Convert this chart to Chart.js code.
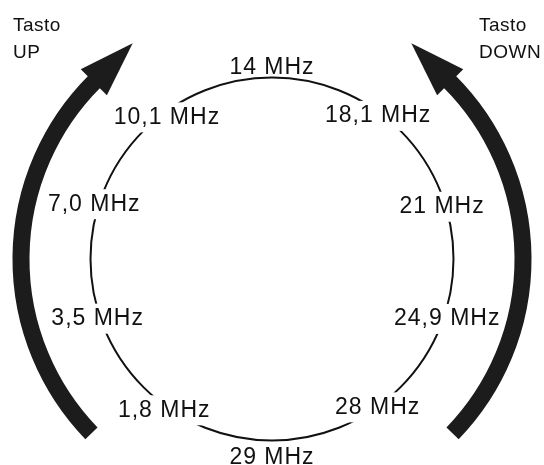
<!DOCTYPE html>
<html>
<head>
<meta charset="utf-8">
<script src="https://cdn.jsdelivr.net/npm/chart.js@4"></script>
<style>
  html, body { margin: 0; padding: 0; background: #fff; }
  #wrap { width: 544px; height: 465px; }
</style>
</head>
<body>
<div id="wrap"><canvas id="bandChart"></canvas></div>
<script>
// bands around the ring, clockwise from the top
const bands = ["14 MHz", "18,1 MHz", "21 MHz", "24,9 MHz", "28 MHz", "29 MHz", "1,8 MHz", "3,5 MHz", "7,0 MHz", "10,1 MHz"];
// how far each label sits from the centre (ring = 1)
const labelRadius = [1.07, 0.995, 0.985, 1.015, 0.99, 1.08, 1.01, 1.01, 1.03, 0.985];
const ringTicks = [0, 1];

// the two keys and their arrows (angles clockwise from the top, degrees)
const keyLines = [["Tasto", "UP"], ["Tasto", "DOWN"]];
const arrowFrom = [226, 134];
const arrowTo = [315, 45];
const arrowRadius = 1.383;

const ink = "#111";

const diagramPlugin = {
  id: "diagram",
  afterDatasetsDraw(chart) {
    const ctx = chart.ctx;
    const scale = chart.scales.r;
    const meta = chart.getDatasetMeta(0);
    ctx.save();

    // band labels, white box cuts the ring behind them
    ctx.font = "23px 'Liberation Sans', Arial, sans-serif";
    ctx.letterSpacing = "1px";
    ctx.textAlign = "center";
    ctx.textBaseline = "middle";
    meta.data.forEach((pt, i) => {
      const w = ctx.measureText(bands[i]).width;
      const y = pt.y + 3;
      if (labelRadius[i] < 1.05) {
        ctx.fillStyle = "#fff";
        ctx.fillRect(pt.x - w / 2 - 4, y - 15, w + 8, 30);
      }
      ctx.fillStyle = ink;
      ctx.fillText(bands[i], pt.x, y);
    });

    // curved arrows
    const cx = scale.xCenter;
    const cy = scale.yCenter;
    const r = scale.getDistanceFromCenterForValue(arrowRadius);
    ctx.fillStyle = "#1c1c1c";
    ctx.strokeStyle = "#1c1c1c";
    ctx.lineWidth = 17;
    ctx.lineCap = "butt";
    arrowFrom.forEach((a0, i) => {
      const p0 = (a0 - 90) * Math.PI / 180;
      const p1 = (arrowTo[i] - 90) * Math.PI / 180;
      const ccw = arrowTo[i] < a0;
      ctx.beginPath();
      ctx.arc(cx, cy, r, p0, p1, ccw);
      ctx.stroke();

      const bx = cx + r * Math.cos(p1);
      const by = cy + r * Math.sin(p1);
      const tx = ccw ? Math.sin(p1) : -Math.sin(p1);
      const ty = ccw ? -Math.cos(p1) : Math.cos(p1);
      const nx = Math.cos(p1);
      const ny = Math.sin(p1);
      ctx.beginPath();
      ctx.moveTo(bx + tx * 54, by + ty * 54);
      ctx.lineTo(bx + nx * 18.5 - tx * 1, by + ny * 18.5 - ty * 1);
      ctx.lineTo(bx - nx * 18.5 - tx * 1, by - ny * 18.5 - ty * 1);
      ctx.closePath();
      ctx.fill();
    });

    // key names in the top corners
    ctx.font = "19px 'Liberation Sans', Arial, sans-serif";
    ctx.letterSpacing = "0.5px";
    ctx.textAlign = "left";
    ctx.textBaseline = "alphabetic";
    ctx.fillStyle = ink;
    const keyX = [13, 479];
    keyLines.forEach((lines, i) => {
      lines.forEach((t, j) => ctx.fillText(t, keyX[i], 31 + j * 27));
    });

    ctx.restore();
  }
};

new Chart(document.getElementById("bandChart"), {
  type: "radar",
  data: {
    labels: bands,
    datasets: [{
      data: labelRadius,
      showLine: false,
      fill: false,
      borderWidth: 0,
      pointRadius: 0,
      pointHoverRadius: 0
    }]
  },
  options: {
    responsive: true,
    maintainAspectRatio: false,
    animation: false,
    events: [],
    layout: { padding: { top: 53 } },
    plugins: {
      legend: { display: false },
      tooltip: { enabled: false }
    },
    scales: {
      r: {
        min: 0,
        max: 1.135,
        afterBuildTicks: scale => {
          scale.ticks = ringTicks.map(v => ({ value: v }));
        },
        ticks: { display: false },
        pointLabels: { display: false },
        angleLines: { display: false },
        grid: { circular: true, color: ink, lineWidth: 2 }
      }
    }
  },
  plugins: [diagramPlugin]
});
</script>
</body>
</html>
